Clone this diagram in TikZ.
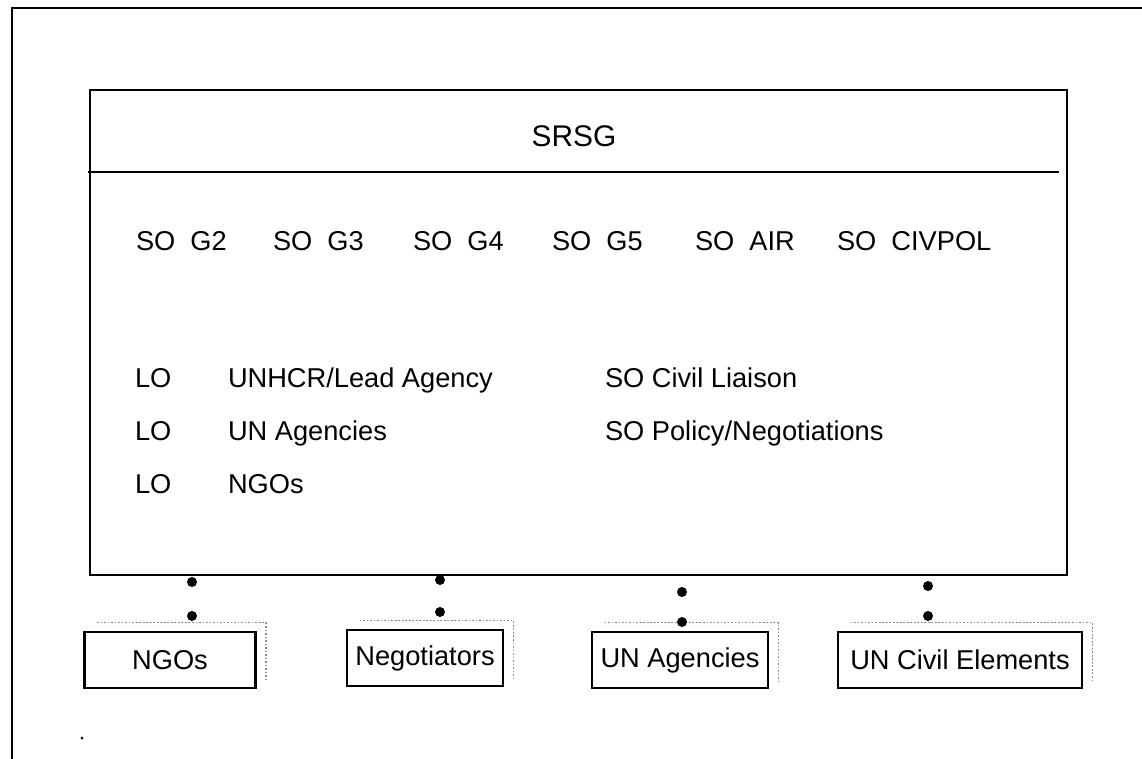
\documentclass[tikz,border=0pt]{standalone}
\usepackage{fontspec}
\setmainfont{Liberation Sans}
\newdimen\hdim
\hdim=1.12cm
\tikzstyle{panel}=[
  draw=black,
  line width=1.6pt,
]
\tikzstyle{entry}=[
  anchor=base west,
  font={\fontsize{15.5}{18}\selectfont},
  inner sep=0pt,
  outer sep=0pt,
]
\tikzstyle{unit}=[
  draw=black,
  font={\fontsize{15.5}{18}\selectfont},
  inner sep=0pt,
  line width=1.6pt,
  minimum height=\hdim,
  rectangle,
  text centered,
]
\tikzstyle{shade}=[
  densely dotted,
  draw=black!45,
  line width=1pt,
]
\tikzstyle{dot}=[
  circle,
  fill=black,
  inner sep=0pt,
  minimum size=0.2cm,
]
\tikzset{
  x=0.02cm,
  y=-0.02cm,
}

\begin{document}
\begin{tikzpicture}
    \useasboundingbox (0,0) rectangle (1142,759);
    % outer frame, cut off at the right and bottom
    \draw [line width=1.4pt] (12,759) -- (12,8) -- (1142,8);
    % headquarters box
    \coordinate (A) at (90,90);
    \coordinate (B) at (1067,575);
    \path [panel] (A) rectangle (B);
    \draw [panel] (88,172) -- (1059,172);
    \node (srsg) [entry, anchor=base, font={\fontsize{17}{20}\selectfont}] at (574,147) {SRSG};
    \node (sog2) [entry] at (136,251) {SO~~G2};
    \node (sog3) [entry] at (273,251) {SO~~G3};
    \node (sog4) [entry] at (413,251) {SO~~G4};
    \node (sog5) [entry] at (552,251) {SO~~G5};
    \node (soair) [entry] at (695,251) {SO~~AIR};
    \node (socivpol) [entry] at (837,251) {SO~~CIVPOL};
    \node (lo1) [entry] at (135,388) {LO};
    \node (lo2) [entry] at (135,441) {LO};
    \node (lo3) [entry] at (135,494) {LO};
    \node (unhcr) [entry] at (228,388) {UNHCR/Lead Agency};
    \node (unagy) [entry] at (228,441) {UN Agencies};
    \node (ngolo) [entry] at (228,494) {NGOs};
    \node (socivil) [entry] at (605,388) {SO Civil Liaison};
    \node (sopolicy) [entry] at (605,441) {SO Policy/Negotiations};
    % outside elements
    \node (ngos) [unit, minimum width=3.42cm] at (170,660) {NGOs};
    \node (negot) [unit, minimum width=3.12cm] at (425,658) {Negotiators};
    \node (unagencies) [unit, minimum width=3.52cm] at (680,660) {UN Agencies};
    \node (uncivil) [unit, minimum width=4.88cm] at (960,660) {UN Civil Elements};
    \foreach \u in {ngos,negot,unagencies,uncivil}
      \draw [shade] ([shift={(14,-8)}]\u.north west) -| ([shift={(9,-8)}]\u.south east);
    % links
    \node (ngos1) [dot] at (192,582) {};
    \node (ngos2) [dot] at (192,616) {};
    \node (negot1) [dot] at (440,580) {};
    \node (negot2) [dot] at (440,612) {};
    \node (unag1) [dot] at (682,592) {};
    \node (unag2) [dot] at (682,622) {};
    \node (uncv1) [dot] at (928,586) {};
    \node (uncv2) [dot] at (928,616) {};
    \fill (82,738) circle (0.03cm);
  \end{tikzpicture}
\end{document}
